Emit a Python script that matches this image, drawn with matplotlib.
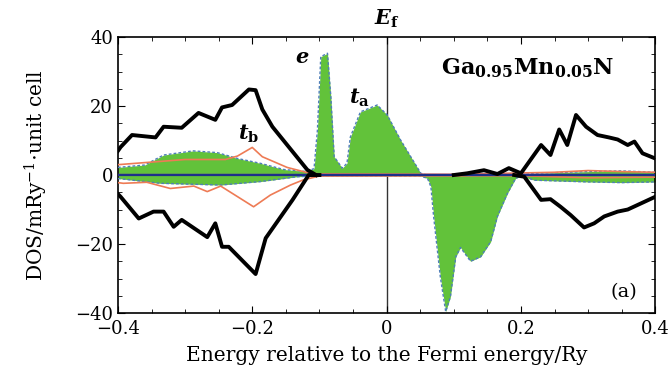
import numpy as np
import matplotlib
matplotlib.use("Agg")
import matplotlib.pyplot as plt
from matplotlib.ticker import MultipleLocator

plt.rcParams['font.family'] = ['DejaVu Serif']
plt.rcParams['mathtext.fontset'] = 'dejavuserif'

nan = np.nan

# total DOS (black), spin up / spin down; nan = hidden in the gap
tot_up_x = [-0.4, -0.396, -0.379, -0.344, -0.332, -0.305, -0.28, -0.255, -0.245, -0.23, -0.205,
            -0.195, -0.185, -0.17, -0.118, -0.105, 0.0, 0.1, 0.12, 0.145, 0.165, 0.182, 0.2,
            0.23, 0.244, 0.257, 0.269, 0.282, 0.297, 0.314, 0.331, 0.344, 0.359, 0.369, 0.381, 0.4]
tot_up_y = [7.0, 8.1, 11.6, 10.9, 14.0, 13.7, 18.0, 16.0, 19.6, 20.3, 24.8,
            24.6, 19.0, 14.0, 1.5, 0.0, nan, 0.0, 0.5, 1.4, 0.3, 2.0, 0.5,
            8.7, 5.8, 13.2, 8.7, 17.4, 14.0, 11.6, 10.9, 10.3, 8.7, 9.7, 6.3, 4.8]
tot_dn_x = [-0.4, -0.396, -0.369, -0.347, -0.332, -0.317, -0.305, -0.267, -0.255, -0.245, -0.235,
            -0.195, -0.18, -0.14, -0.116, -0.1, 0.0, 0.19, 0.205, 0.23, 0.244, 0.259, 0.274,
            0.294, 0.309, 0.324, 0.344, 0.359, 0.379, 0.4]
tot_dn_y = [-5.5, -6.3, -12.6, -10.6, -10.6, -15.0, -13.0, -18.0, -14.0, -20.8, -20.8,
            -28.7, -18.3, -7.2, 0.0, -0.0, nan, 0.0, -0.5, -7.2, -7.0, -9.2, -11.6,
            -15.2, -14.0, -12.0, -10.6, -10.0, -8.2, -6.3]

# Mn d DOS (green fill)
mn_up_x = [-0.4, -0.36, -0.332, -0.288, -0.252, -0.222, -0.188, -0.153, -0.118, -0.108, -0.103,
           -0.098, -0.088, -0.083, -0.078, -0.066, -0.059, -0.054, -0.039, -0.014, 0.001, 0.021,
           0.036, 0.051, 0.06, 0.2, 0.22, 0.3, 0.35, 0.4]
mn_up_y = [2.2, 2.9, 5.8, 7.0, 6.5, 4.8, 3.4, 1.6, 1.0, 1.9, 13.0,
           34.3, 35.3, 22.7, 5.3, 2.0, 3.4, 11.0, 18.3, 20.3, 17.4, 10.1,
           5.3, 0.5, 0.0, 0.0, 0.5, 1.0, 1.2, 0.8]
mn_dn_x = [-0.4, -0.337, -0.247, -0.188, -0.133, -0.1, 0.05, 0.061, 0.066, 0.07, 0.08, 0.088,
           0.095, 0.103, 0.11, 0.125, 0.14, 0.155, 0.165, 0.18, 0.192, 0.2, 0.22, 0.3, 0.35, 0.4]
mn_dn_y = [-1.0, -2.4, -2.9, -1.9, -0.5, -0.2, -0.2, -1.0, -3.4, -12.0, -29.5, -39.6,
           -35.3, -23.7, -21.0, -25.0, -23.7, -19.3, -12.0, -5.3, -1.0, -0.3, -1.5, -2.0, -2.2, -2.0]

# partial DOS (orange)
pd_up_x = [-0.4, -0.3, -0.24, -0.222, -0.2, -0.185, -0.148, -0.12, -0.1, 0.1, 0.25, 0.3, 0.35, 0.4]
pd_up_y = [3.0, 4.5, 4.5, 5.5, 8.0, 5.3, 2.2, 0.8, 0.3, 0.2, 0.8, 1.3, 1.0, 0.8]
pd_dn_x = [-0.4, -0.392, -0.357, -0.322, -0.287, -0.267, -0.247, -0.198, -0.173, -0.143, -0.124,
           -0.1, 0.2, 0.3, 0.4]
pd_dn_y = [-2.2, -2.4, -2.1, -3.9, -3.2, -4.8, -3.2, -9.2, -5.8, -2.9, -1.4,
           -0.3, -0.2, -0.8, -0.6]

green = '#62c23a'
edge = '#4f7fb8'

fig = plt.figure(figsize=(6.7, 3.74), dpi=100)
ax = fig.add_axes([0.176, 0.163, 0.802, 0.738])

ax.axvline(0, color='#333333', lw=1.0, zorder=1)

ax.fill_between(mn_up_x, mn_up_y, 0, color=green, lw=0, zorder=2)
ax.fill_between(mn_dn_x, mn_dn_y, 0, color=green, lw=0, zorder=2)
ax.plot(mn_up_x, mn_up_y, color=edge, lw=1.0, dashes=(2, 1.5), zorder=3)
ax.plot(mn_dn_x, mn_dn_y, color=edge, lw=1.0, dashes=(2, 1.5), zorder=3)

ax.plot(pd_up_x, pd_up_y, color='#ee7b55', lw=1.2, zorder=3)
ax.plot(pd_dn_x, pd_dn_y, color='#ee7b55', lw=1.2, zorder=3)

ax.axhline(0.4, color='#7a3f8f', lw=1.0, zorder=3)
ax.axhline(0, color='#1d2f8a', lw=1.6, zorder=4)

ax.plot(tot_up_x, tot_up_y, color='black', lw=2.8, zorder=5, solid_joinstyle='round')
ax.plot(tot_dn_x, tot_dn_y, color='black', lw=2.8, zorder=5, solid_joinstyle='round')

ax.set_xlim(-0.4, 0.4)
ax.set_ylim(-40, 40)
ax.set_xticks([-0.4, -0.2, 0, 0.2, 0.4])
ax.set_xticklabels(['\u22120.4', '\u22120.2', '0', '0.2', '0.4'])
ax.set_yticks([-40, -20, 0, 20, 40])
ax.set_yticklabels(['\u221240', '\u221220', '0', '20', '40'])
ax.xaxis.set_minor_locator(MultipleLocator(0.05))
ax.yaxis.set_minor_locator(MultipleLocator(5))
ax.tick_params(which='both', direction='in', top=True, right=True, labelsize=13)
ax.tick_params(which='major', length=5)
ax.tick_params(which='minor', length=3)
ax.tick_params(axis='x', pad=5)
for s in ax.spines.values():
    s.set_linewidth(1.2)

ax.set_xlabel('Energy relative to the Fermi energy/Ry', fontsize=14.5, labelpad=6)
ax.set_ylabel('DOS/mRy$^{-1}$$\\cdot$unit cell', fontsize=14.5, labelpad=18)

ax.text(0, 42, r'$\boldsymbol{E}_{\mathbf{f}}$', ha='center', va='bottom', fontsize=15)
ax.text(-0.126, 34, r'$\boldsymbol{e}$', ha='center', va='center', fontsize=15)
ax.text(-0.04, 22.5, r'$\boldsymbol{t}_{\mathbf{a}}$', ha='center', va='center', fontsize=15)
ax.text(-0.205, 12, r'$\boldsymbol{t}_{\mathbf{b}}$', ha='center', va='center', fontsize=15)
ax.text(0.21, 31, r'Ga$_{\mathbf{0.95}}$Mn$_{\mathbf{0.05}}$N', ha='center', va='center',
        fontsize=16, fontweight='bold')
ax.text(0.353, -34, '(a)', ha='center', va='center', fontsize=14)

fig.savefig('out.png', dpi=100)
